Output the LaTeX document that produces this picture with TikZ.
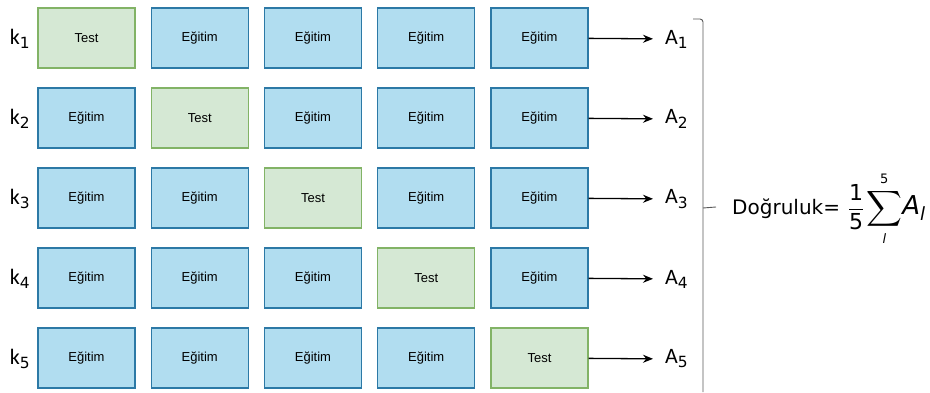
\documentclass[tikz,border=0pt]{standalone}
\usepackage{amsmath}
\usepackage{fontspec}
\setmainfont{DejaVu Sans}
\newfontfamily\boxfont{Liberation Sans}
\newfontfamily\lblfont{Carlito}
\usetikzlibrary{arrows.meta}
\definecolor{gfill}{HTML}{D5E8D4}
\definecolor{gline}{HTML}{82B366}
\definecolor{bfill}{HTML}{B1DDF0}
\definecolor{bline}{HTML}{2C79A6}
\tikzset{
  cell/.style={minimum width=97pt, minimum height=60pt, inner sep=0pt, line width=1.2pt, font=\boxfont\fontsize{13}{15}\selectfont},
  train/.style={cell, draw=bline, fill=bfill},
  testc/.style={cell, draw=gline, fill=gfill},
  klbl/.style={font=\lblfont\fontsize{22}{24}\selectfont, inner sep=0pt},
  albl/.style={font=\lblfont\fontsize{22}{24}\selectfont, inner sep=0pt, anchor=west},
  conn/.style={line width=1.3pt, -{Stealth[length=10pt,width=8pt]}, shorten >=12pt},
  brk/.style={line width=0.9pt, draw=black!65}
}
\begin{document}
\begin{tikzpicture}[x=1pt,y=-1pt]
\useasboundingbox (0,0) rectangle (930,392);
\foreach \r in {1,...,5}{
  \pgfmathsetmacro{\yy}{38+80*(\r-1)}
  \foreach \c in {1,...,5}{
    \pgfmathsetmacro{\xx}{86.5+113.25*(\c-1)}
    \ifnum\c=\r
      \node[testc] (b\r\c) at (\xx,\yy) {Test};
    \else
      \node[train] (b\r\c) at (\xx,\yy) {Eğitim};
    \fi
  }
  \node[klbl] (k\r) at (20,\yy+1) {k$_{\mathrm{\r}}$};
  \node[albl] (A\r) at (665,\yy+1) {A$_{\mathrm{\r}}$};
  \draw[conn] (b\r5) -- (A\r);
}
\coordinate (bt) at (693,19);
\coordinate (bc) at (703,19);
\coordinate (bb) at (703,392);
\coordinate (tk) at (703,208);
\coordinate (tke) at (716,207);
\draw[brk, rounded corners=3pt] (bt) -- (bc) -- (bb);
\draw[brk] (tk) -- (tke);
\node[anchor=west, inner sep=0pt, font=\fontsize{20}{24}\selectfont] (acc) at (732,209)
  {Doğruluk=\hspace{8pt}{\fontsize{22}{26}\selectfont$\displaystyle\frac{\mathrm{1}}{\mathrm{5}}$}\hspace{2pt}{\fontsize{26}{30}\selectfont$\displaystyle\sum_{\scriptscriptstyle\mathit{l}}^{\scriptscriptstyle\mathrm{5}}\!\mathit{A_{l}}$}};
\end{tikzpicture}
\end{document}
